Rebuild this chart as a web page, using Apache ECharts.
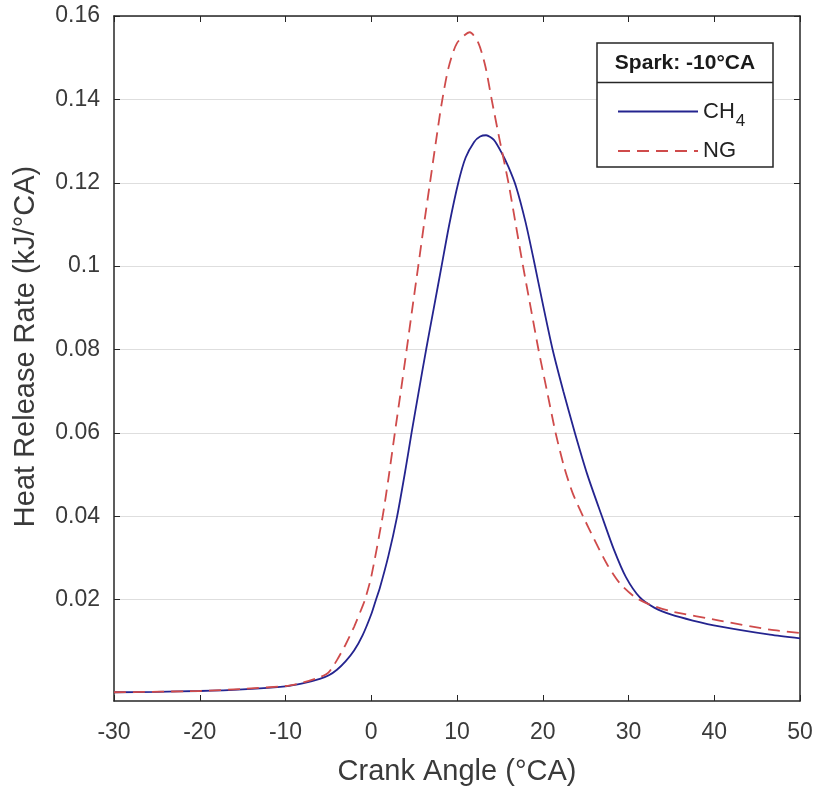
<!DOCTYPE html>
<html>
<head>
<meta charset="utf-8">
<script src="https://cdn.jsdelivr.net/npm/echarts@6/dist/echarts.min.js"></script>
<style>
html,body{margin:0;padding:0;background:#fff;}
#chart{width:821px;height:792px;}
</style>
</head>
<body>
<div id="chart"></div>
<script>
// Crank angle (°CA) and heat release rate (kJ/°CA)
const crankCH4 = [-30, -25, -20, -15, -10, -8, -6, -5, -4, -3, -2, -1, 0, 0.55, 1, 2, 3, 4, 4.7, 5.5, 6.4, 7.3, 8.2, 9.1, 10.15, 11, 12, 12.7, 13.4, 14.3, 15.2, 16, 16.9, 18, 19, 20, 21.15, 22.4, 23.75, 25.2, 26.9, 28.3, 29.7, 31.3, 33, 35, 37.5, 40.6, 46.5, 50];
const hrrCH4   = [-0.0022, -0.0021, -0.0019, -0.0015, -0.0008, -0.0001, 0.0010, 0.0018, 0.0032, 0.0052, 0.0078, 0.0115, 0.0165, 0.020, 0.0228, 0.0305, 0.0398, 0.0513, 0.060, 0.0695, 0.080, 0.090, 0.100, 0.110, 0.120, 0.1260, 0.1298, 0.1311, 0.1314, 0.1303, 0.1272, 0.1238, 0.1190, 0.1105, 0.1010, 0.0910, 0.080, 0.070, 0.060, 0.050, 0.040, 0.032, 0.0254, 0.0206, 0.0181, 0.0164, 0.0150, 0.0136, 0.0116, 0.0107];

const crankNG = [-30, -20, -15, -10, -8, -6, -5, -4, -3, -2, -1, -0.73, 0, 1.33, 2, 2.75, 3.45, 4.13, 4.8, 5.48, 6.15, 6.85, 7.55, 8.21, 9, 10, 11.5, 12.5, 13.3, 14.04, 15, 16, 16.85, 17.7, 18.6, 19.5, 20.5, 21.5, 22.5, 23.5, 24.7, 26, 27.5, 29, 30.7, 32.5, 35, 40.6, 46.5, 50];
const hrrNG   = [-0.0022, -0.0019, -0.0014, -0.0007, 0.0001, 0.0014, 0.0025, 0.0055, 0.0092, 0.0135, 0.0185, 0.020, 0.0255, 0.040, 0.049, 0.060, 0.070, 0.080, 0.090, 0.100, 0.110, 0.120, 0.130, 0.139, 0.1475, 0.1535, 0.1561, 0.1535, 0.148, 0.140, 0.130, 0.120, 0.110, 0.100, 0.090, 0.080, 0.070, 0.060, 0.0518, 0.0455, 0.040, 0.0345, 0.0285, 0.0239, 0.0207, 0.0188, 0.0172, 0.0150, 0.0128, 0.0120];

const seriesNames = ['CH4', 'NG'];
const yTicks = [0.02, 0.04, 0.06, 0.08, 0.1, 0.12, 0.14, 0.16];
const legendTitle = 'Spark: -10°CA';
const xTitle = 'Crank Angle (°CA)';
const yTitle = 'Heat Release Rate (kJ/°CA)';

const zip = (xs, ys) => xs.map((x, i) => [x, ys[i]]);

const FONT = 'Liberation Sans, Arial, sans-serif';
const AX = '#262626';
const TXT = '#3a3a3a';

const chart = echarts.init(document.getElementById('chart'), null, {renderer: 'canvas'});

const baseX = {type: 'value', min: -30, max: 50, interval: 10};
const baseY = {type: 'value', min: -0.0043, max: 0.16};

chart.setOption({
  animation: false,
  backgroundColor: '#ffffff',
  grid: {left: 114, right: 21, top: 16, bottom: 91, containLabel: false},
  xAxis: [
    Object.assign({}, baseX, {
      position: 'bottom',
      name: xTitle, nameLocation: 'middle', nameGap: 56,
      nameTextStyle: {fontFamily: FONT, fontSize: 29, color: TXT},
      axisLine: {show: true, onZero: false, lineStyle: {color: AX, width: 1.5}},
      axisTick: {show: true, inside: true, length: 6, lineStyle: {color: AX}},
      axisLabel: {fontFamily: FONT, fontSize: 23, color: TXT, margin: 20},
      splitLine: {show: false}
    }),
    Object.assign({}, baseX, {
      position: 'top',
      axisLine: {show: true, onZero: false, lineStyle: {color: AX, width: 1.5}},
      axisTick: {show: true, inside: true, length: 6, lineStyle: {color: AX}},
      axisLabel: {show: false},
      splitLine: {show: false}
    })
  ],
  yAxis: [
    Object.assign({}, baseY, {
      position: 'left',
      name: yTitle, nameLocation: 'middle', nameGap: 74,
      nameTextStyle: {fontFamily: FONT, fontSize: 29, color: TXT, padding: [0, 0, 0, 24]},
      axisLine: {show: true, onZero: false, lineStyle: {color: AX, width: 1.5}},
      axisTick: {show: true, inside: true, length: 6, lineStyle: {color: AX}, customValues: yTicks},
      axisLabel: {fontFamily: FONT, fontSize: 23, color: TXT, margin: 14, customValues: yTicks},
      splitLine: {show: true, lineStyle: {color: '#dedede', width: 1}}
    }),
    Object.assign({}, baseY, {
      position: 'right',
      axisLine: {show: true, onZero: false, lineStyle: {color: AX, width: 1.5}},
      axisTick: {show: true, inside: true, length: 6, lineStyle: {color: AX}, customValues: yTicks},
      axisLabel: {show: false, customValues: yTicks},
      splitLine: {show: false}
    })
  ],
  legend: {
    show: true,
    orient: 'vertical',
    left: 612, top: 88,
    data: seriesNames,
    itemWidth: 80, itemHeight: 14, itemGap: 8,
    z: 6,
    itemStyle: {opacity: 0, borderWidth: 0},
    textStyle: {
      fontFamily: FONT, fontSize: 22, color: '#222', lineHeight: 26,
      rich: {
        n: {fontFamily: FONT, fontSize: 22, color: '#222', lineHeight: 26},
        s: {fontFamily: FONT, fontSize: 17, color: '#222', lineHeight: 26, padding: [20, 0, 0, 1]}
      }
    },
    formatter: function (name) {
      return name === 'CH4' ? '{n|CH}{s|4}' : '{n|' + name + '}';
    },
    selectedMode: false
  },
  graphic: [
    {type: 'rect', z: 5, shape: {x: 597, y: 43, width: 176, height: 124},
      style: {fill: '#ffffff', stroke: AX, lineWidth: 1.5}},
    {type: 'line', z: 5, shape: {x1: 597, y1: 82.5, x2: 773, y2: 82.5},
      style: {stroke: AX, lineWidth: 1.5}},
    {type: 'text', z: 5, x: 685, y: 63,
      style: {text: legendTitle, fontFamily: FONT, fontSize: 21, fontWeight: 'bold',
        fill: '#1a1a1a', align: 'center', verticalAlign: 'middle'}}
  ],
  series: [
    {
      name: 'CH4', type: 'line', xAxisIndex: 0, yAxisIndex: 0,
      data: zip(crankCH4, hrrCH4),
      showSymbol: false, symbol: 'none', smooth: 0.25,
      lineStyle: {color: '#24248f', width: 1.8, type: 'solid'},
      itemStyle: {color: '#24248f'}
    },
    {
      name: 'NG', type: 'line', xAxisIndex: 0, yAxisIndex: 0,
      data: zip(crankNG, hrrNG),
      showSymbol: false, symbol: 'none', smooth: 0.25,
      lineStyle: {color: '#cf4b4b', width: 1.8, type: [12, 7]},
      itemStyle: {color: '#cf4b4b'}
    }
  ]
});
</script>
</body>
</html>
